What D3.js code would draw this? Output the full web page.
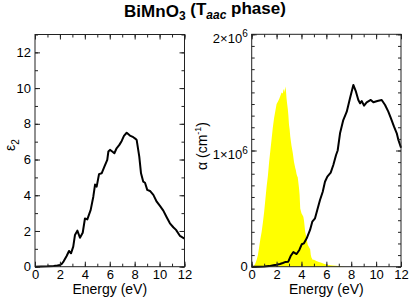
<!DOCTYPE html>
<html>
<head>
<meta charset="utf-8">
<script src="https://cdn.jsdelivr.net/npm/d3@7"></script>
<style>
  body { margin: 0; background: #fff; }
  svg { display: block; }
  text { font-family: "Liberation Sans", Arial, Helvetica, sans-serif; }
</style>
</head>
<body>
<div id="chart"></div>
<script>
// ---- data ----
var energyTicks = [0, 2, 4, 6, 8, 10, 12];
var eps2Ticks = [0, 2, 4, 6, 8, 10, 12];
var alphaTicks = [0, 1e6, 2e6];

// imaginary part of dielectric function
var epsE = [0, 0.5, 1.0, 1.5, 1.8, 2.0, 2.14, 2.3, 2.54, 2.73, 2.89, 3.07, 3.21, 3.4, 3.61, 3.83, 4.01, 4.2, 4.47, 4.68, 4.82, 4.95, 5.14, 5.35, 5.57, 5.8, 5.89, 6.02, 6.2, 6.37, 6.55, 6.77, 6.96, 7.14, 7.36, 7.62, 7.89, 8.1, 8.16, 8.37, 8.51, 8.69, 8.83, 9.01, 9.23, 9.5, 9.77, 10.03, 10.3, 10.57, 10.83, 11.1, 11.32, 11.64, 11.96, 12.0];
var epsV = [0, 0.01, 0.02, 0.04, 0.07, 0.1, 0.15, 0.3, 0.6, 0.88, 0.75, 1.12, 1.78, 2.02, 1.62, 1.9, 2.7, 2.65, 3.18, 3.92, 4.6, 4.48, 5.18, 5.23, 5.6, 5.98, 6.45, 6.54, 6.45, 6.35, 6.63, 6.82, 7.04, 7.32, 7.5, 7.34, 7.25, 7.14, 7.1, 6.16, 5.23, 4.76, 4.7, 4.3, 4.24, 4.02, 3.64, 3.4, 3.14, 2.77, 2.43, 2.21, 2.06, 1.72, 1.59, 1.58];

// absorption coefficient (cm^-1)
var alphaE = [0, 0.5, 1.0, 1.4, 1.74, 2.0, 2.27, 2.5, 2.68, 2.94, 3.13, 3.35, 3.61, 3.83, 4.02, 4.2, 4.42, 4.69, 4.87, 5.09, 5.27, 5.49, 5.71, 5.89, 6.08, 6.35, 6.56, 6.78, 6.91, 7.1, 7.36, 7.64, 7.9, 8.17, 8.38, 8.57, 8.71, 8.84, 9.03, 9.24, 9.57, 9.78, 10.1, 10.45, 10.72, 10.98, 11.17, 11.44, 11.66, 11.79, 12.0];
var alphaV = [0, 0, 0.002, 0.005, 0.012, 0.017, 0.023, 0.032, 0.04, 0.043, 0.092, 0.126, 0.109, 0.144, 0.193, 0.201, 0.244, 0.316, 0.387, 0.416, 0.488, 0.574, 0.645, 0.731, 0.775, 0.809, 0.875, 0.961, 1.0, 1.148, 1.262, 1.334, 1.449, 1.564, 1.506, 1.435, 1.406, 1.426, 1.386, 1.415, 1.435, 1.415, 1.426, 1.435, 1.392, 1.334, 1.282, 1.205, 1.148, 1.09, 1.024];

// solar spectrum (yellow), same units as alpha
var sunE = [0.1, 0.2, 0.3, 0.4, 0.5, 0.6, 0.7, 0.8, 0.9, 1.0, 1.1, 1.2, 1.3, 1.4, 1.5, 1.6, 1.7, 1.8, 1.9, 2.0, 2.1, 2.2, 2.3, 2.4, 2.5, 2.55, 2.6, 2.65, 2.7, 2.75, 2.8, 2.85, 2.9, 2.95, 3.0, 3.05, 3.1, 3.15, 3.2, 3.3, 3.4, 3.5, 3.55, 3.6, 3.65, 3.7, 3.8, 3.85, 3.9, 4.0, 4.1, 4.15, 4.2, 4.3, 4.4, 4.5, 4.6, 4.7, 4.75, 4.8, 4.9, 5.0, 5.2, 5.4, 5.6, 5.8, 6.0, 6.2, 6.5, 7.0, 7.5];
var sunV = [0, 0.01, 0.03, 0.06, 0.1, 0.17, 0.24, 0.3, 0.38, 0.47, 0.58, 0.69, 0.78, 0.9, 1.0, 1.1, 1.2, 1.28, 1.34, 1.4, 1.42, 1.44, 1.47, 1.5, 1.49, 1.52, 1.53, 1.5, 1.55, 1.52, 1.45, 1.4, 1.36, 1.3, 1.22, 1.18, 1.12, 1.08, 1.04, 0.98, 0.9, 0.85, 0.83, 0.8, 0.78, 0.77, 0.68, 0.62, 0.5, 0.46, 0.44, 0.43, 0.4, 0.3, 0.25, 0.19, 0.17, 0.15, 0.1, 0.08, 0.06, 0.06, 0.05, 0.04, 0.035, 0.025, 0.02, 0.015, 0.01, 0.005, 0];

var W = 409, H = 298;
var fs = 14, tfs = 13;

var svg = d3.select("#chart").append("svg")
  .attr("width", W)
  .attr("height", H);

function Panel(opts) {
  this.opts = opts;
  this.init();
}

Panel.prototype.init = function () {
  var p = this, o = p.opts;
  p.x = d3.scaleLinear().domain([0, 12]).range([o.left, o.right]);
  p.y = d3.scaleLinear().domain(o.ydomain).range([o.bottom, o.top]);
  p.g = svg.append("g");

  // fills first so frame/ticks stay on top
  if (o.fill) {
    var area = d3.area()
      .x(function (d) { return p.x(d[0]); })
      .y0(p.y(0))
      .y1(function (d) { return p.y(d[1]); });
    p.g.append("path")
      .datum(o.fill)
      .attr("fill", "#ffff00")
      .attr("d", area);
  }

  var line = d3.line()
    .x(function (d) { return p.x(d[0]); })
    .y(function (d) { return p.y(d[1]); });
  p.g.append("path")
    .datum(o.line)
    .attr("fill", "none")
    .attr("stroke", "#000")
    .attr("stroke-width", 2)
    .attr("stroke-linejoin", "round")
    .attr("d", line);

  // frame
  p.g.append("rect")
    .attr("x", o.left).attr("y", o.top)
    .attr("width", o.right - o.left).attr("height", o.bottom - o.top)
    .attr("fill", "none").attr("stroke", "#222").attr("stroke-width", 1);

  p.drawTicks();
};

Panel.prototype.drawTicks = function () {
  var p = this, o = p.opts;
  var minorX = d3.range(0, 13, 1);
  var minorY = d3.range(o.ydomain[0], o.ydomain[1] + o.yminor / 2, o.yminor);

  function mk(axis, scale, vals, size, fmt) {
    return axis(scale).tickValues(vals).tickSizeInner(-size).tickSizeOuter(0).tickFormat(fmt || "");
  }
  function put(ax, tx, ty) {
    var g = p.g.append("g").attr("transform", "translate(" + tx + "," + ty + ")").call(ax);
    g.select(".domain").remove();
    g.selectAll("line").attr("stroke", "#222");
    g.selectAll("text").attr("font-size", tfs).attr("font-family", null).attr("fill", "#000");
    return g;
  }

  // bottom
  put(mk(d3.axisBottom, p.x, minorX, 3), 0, o.bottom);
  put(mk(d3.axisBottom, p.x, energyTicks, 5, d3.format("d")).tickPadding(3), 0, o.bottom);
  // top
  put(mk(d3.axisTop, p.x, minorX, 3), 0, o.top);
  put(mk(d3.axisTop, p.x, energyTicks, 5), 0, o.top);
  // left
  put(mk(d3.axisLeft, p.y, minorY, 3), o.left, 0);
  var yl = put(mk(d3.axisLeft, p.y, o.yticks, 5, o.yfmt).tickPadding(4), o.left, 0);
  // right
  put(mk(d3.axisRight, p.y, minorY, 3), o.right, 0);
  put(mk(d3.axisRight, p.y, o.yticks, 5), o.right, 0);

  if (o.sci) {
    yl.selectAll("text").each(function (d) {
      var t = d3.select(this);
      if (d === 0) return;
      t.text(null);
      t.append("tspan").text((d / 1e6) + "\u00d710");
      t.append("tspan").attr("font-size", 10).attr("dy", "-0.55em").text("6");
      t.attr("dy", "0.62em");
    });
  }

  // axis title
  var cx = (o.left + o.right) / 2;
  p.g.append("text")
    .attr("x", cx).attr("y", o.bottom + 27)
    .attr("text-anchor", "middle")
    .attr("font-size", fs)
    .text("Energy (eV)");
};

new Panel({
  left: 35, right: 184.5, top: 34.5, bottom: 266.7,
  ydomain: [0, 13], yticks: eps2Ticks, yminor: 1,
  yfmt: d3.format("d"),
  line: epsE.map(function (e, i) { return [e, epsV[i]]; })
});

new Panel({
  left: 251.7, right: 401, top: 34.3, bottom: 266.7,
  ydomain: [0, 2e6], yticks: alphaTicks, yminor: 1e5,
  yfmt: function (d) { return d === 0 ? "0" : d; }, sci: true,
  line: alphaE.map(function (e, i) { return [e, alphaV[i] * 1e6]; }),
  fill: sunE.map(function (e, i) { return [e, sunV[i] * 1e6]; })
});

// y axis titles
var ey = svg.append("text")
  .attr("transform", "translate(15,145) rotate(-90)")
  .attr("text-anchor", "middle")
  .attr("font-size", fs);
ey.append("tspan").text("\u03b5");
ey.append("tspan").attr("font-size", 10).attr("dy", "0.35em").text("2");

var ay = svg.append("text")
  .attr("transform", "translate(207,146) rotate(-90)")
  .attr("text-anchor", "middle")
  .attr("font-size", fs);
ay.append("tspan").text("\u03b1 (cm");
ay.append("tspan").attr("font-size", 9).attr("dy", "-0.7em").text("-1");
ay.append("tspan").attr("dy", "0.45em").text(")");

// title
var title = svg.append("text")
  .attr("x", 205).attr("y", 16.5)
  .attr("text-anchor", "middle")
  .attr("font-size", 17)
  .attr("font-weight", "bold");
title.append("tspan").text("BiMnO");
title.append("tspan").attr("font-size", 12).attr("dy", "0.3em").text("3");
title.append("tspan").attr("dy", "-0.3em").text(" (T");
title.append("tspan").attr("font-size", 12).attr("font-style", "italic").attr("dy", "0.3em").text("aac");
title.append("tspan").attr("dy", "-0.3em").text(" phase)");
</script>
</body>
</html>
